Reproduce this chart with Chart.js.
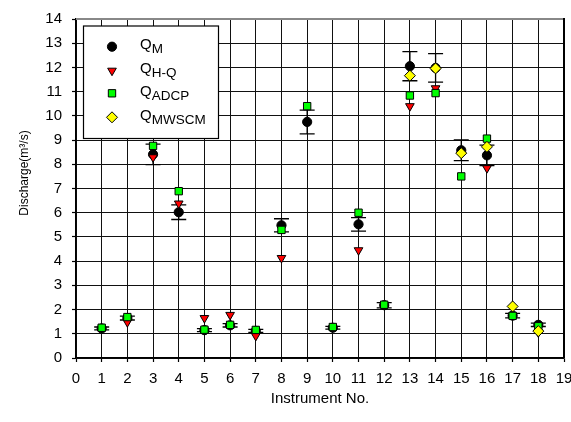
<!DOCTYPE html>
<html>
<head>
<meta charset="utf-8">
<script src="https://cdn.jsdelivr.net/npm/chart.js@4/dist/chart.umd.min.js"></script>
<style>
html,body{margin:0;padding:0;background:#fff;overflow:hidden;}
#wrap{width:571px;height:422px;overflow:hidden;}
canvas{display:block;}
</style>
</head>
<body>
<div id="wrap"><canvas id="c" width="600" height="422"></canvas></div>
<script>
const instruments = [1,2,3,4,5,6,7,8,9,10,11,12,13,14,15,16,17,18];
const qM     = [1.22,1.65,8.41,6.02,1.15,1.35,1.12,5.48,9.75,1.25,5.52,2.18,12.05,11.98,8.58,8.37,1.75,1.37];
const qMErr  = [0.06,0.08,0.42,0.30,0.06,0.07,0.06,0.27,0.49,0.06,0.28,0.11,0.60,0.59,0.43,0.42,0.09,0.07];
const qHQ    = [null,1.48,8.29,6.38,1.65,1.78,0.91,4.13,null,null,4.45,null,10.40,11.14,null,7.84,null,1.06];
const qADCP  = [1.25,1.69,8.76,6.89,1.17,1.37,1.16,5.29,10.40,1.28,6.00,2.20,10.84,10.94,7.50,9.06,1.74,1.31];
const qMWSCM = [null,null,null,null,null,null,null,null,null,null,null,null,11.66,11.96,8.46,8.72,2.13,1.11];
const xTicks = [0,1,2,3,4,5,6,7,8,9,10,11,12,13,14,15,16,17,18,19];
const yTicks = [0,1,2,3,4,5,6,7,8,9,10,11,12,13,14];
const xTitle = 'Instrument No.';
const yTitle = 'Discharge(m\u00b3/s)';

const FONT = '"Liberation Sans", Arial, sans-serif';
const pts = arr => instruments.map((x,i)=>({x:x,y:arr[i]})).filter(p=>p.y!==null);

const series = [
  {label:'M', data:qM, style:'circle', color:'#000000', radius:4.6, rotation:0, order:4},
  {label:'H-Q', data:qHQ, style:'triangle', color:'#ff0000', radius:5, rotation:180, order:3},
  {label:'ADCP', data:qADCP, style:'rect', color:'#00ff00', radius:5.2, rotation:0, order:2},
  {label:'MWSCM', data:qMWSCM, style:'rectRot', color:'#ffff00', radius:5.5, rotation:0, order:1}
];

const errorBars = {
  id:'errorBars',
  beforeDatasetsDraw(chart){
    const {ctx, scales:{x,y}} = chart;
    ctx.save();
    ctx.strokeStyle = '#000';
    ctx.lineWidth = 1.3;
    instruments.forEach((inst,i)=>{
      const px = x.getPixelForValue(inst);
      const top = y.getPixelForValue(qM[i]+qMErr[i]);
      const bot = y.getPixelForValue(qM[i]-qMErr[i]);
      ctx.beginPath();
      ctx.moveTo(px, top); ctx.lineTo(px, bot);
      ctx.moveTo(px-7.5, top); ctx.lineTo(px+7.5, top);
      ctx.moveTo(px-7.5, bot); ctx.lineTo(px+7.5, bot);
      ctx.stroke();
    });
    ctx.restore();
  }
};

const frame = {
  id:'frame',
  afterDraw(chart){
    const {ctx, chartArea:a} = chart;
    ctx.save();
    ctx.lineWidth = 2;
    ctx.strokeStyle = '#888';
    ctx.beginPath(); ctx.moveTo(a.left, a.top); ctx.lineTo(a.right, a.top); ctx.stroke();
    ctx.strokeStyle = '#000';
    ctx.beginPath(); ctx.moveTo(a.right, a.top-1); ctx.lineTo(a.right, a.bottom); ctx.stroke();
    // y axis title
    ctx.save();
    ctx.translate(25, 173);
    ctx.rotate(-Math.PI/2);
    ctx.fillStyle = '#000';
    ctx.font = '12px ' + FONT;
    ctx.textAlign = 'center';
    ctx.textBaseline = 'middle';
    ctx.fillText(yTitle, 0, 0);
    ctx.restore();
    // legend box
    const bx = a.left + 7.5, by = a.top + 7, bw = 135, bh = 112.5;
    ctx.fillStyle = '#fff';
    ctx.fillRect(bx, by, bw, bh);
    ctx.lineWidth = 1.2;
    ctx.strokeStyle = '#000';
    ctx.strokeRect(bx, by, bw, bh);
    const rows = [27.7, 51.7, 74.3, 98.3];
    series.forEach((s,i)=>{
      const cy = a.top + rows[i];
      const mx = bx + 28.5;
      ctx.fillStyle = s.color;
      ctx.strokeStyle = '#000';
      ctx.lineWidth = 1;
      Chart.helpers.drawPoint(ctx, {pointStyle:s.style, radius:s.radius, rotation:s.rotation, borderWidth:1}, mx, cy);
      ctx.fillStyle = '#000';
      ctx.textAlign = 'left';
      ctx.textBaseline = 'alphabetic';
      ctx.font = '15px ' + FONT;
      const tx = bx + 56.5;
      ctx.fillText('Q', tx, cy + 2.5);
      const qw = ctx.measureText('Q').width;
      ctx.font = '13.5px ' + FONT;
      ctx.fillText(s.label, tx + qw, cy + 6.7);
    });
    ctx.restore();
  }
};

const gridOpts = {color:'#111', lineWidth:1, borderDash:[1,3], tickLength:4, tickColor:'#000', tickBorderDash:[], tickWidth:1.2};

new Chart(document.getElementById('c'), {
  type:'scatter',
  data:{
    datasets: series.map(s=>({
      label:s.label,
      data:pts(s.data),
      pointStyle:s.style,
      pointRadius:s.radius,
      pointHoverRadius:s.radius,
      pointRotation:s.rotation,
      backgroundColor:s.color,
      borderColor:'#000',
      pointBorderWidth:1,
      order:s.order,
      showLine:false
    }))
  },
  options:{
    responsive:false,
    animation:false,
    devicePixelRatio:1,
    layout:{padding:{left:0, top:15, right:36, bottom:0}},
    plugins:{legend:{display:false}, tooltip:{enabled:false}},
    scales:{
      x:{
        type:'linear', min:0, max:19,
        afterBuildTicks(scale){ scale.ticks = xTicks.map(v=>({value:v})); },
        afterFit(scale){ scale.height = 64; },
        ticks:{color:'#000', font:{family:FONT, size:15}, padding:8, maxRotation:0, autoSkip:false},
        grid:gridOpts,
        border:{display:true, color:'#000', width:1.5},
        title:{display:true, text:xTitle, color:'#000', font:{family:FONT, size:15}, padding:{top:0, bottom:14}}
      },
      y:{
        type:'linear', min:0, max:14,
        afterBuildTicks(scale){ scale.ticks = yTicks.map(v=>({value:v})); },
        afterFit(scale){ scale.width = 76; },
        ticks:{color:'#000', font:{family:FONT, size:15}, padding:10},
        grid:gridOpts,
        border:{display:true, color:'#000', width:1.5},
        title:{display:false}
      }
    }
  },
  plugins:[errorBars, frame]
});
</script>
</body>
</html>
